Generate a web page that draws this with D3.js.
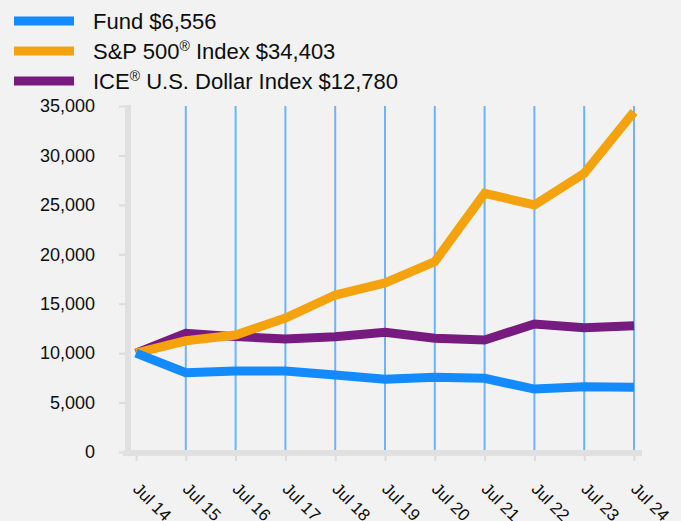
<!DOCTYPE html>
<html>
<head>
<meta charset="utf-8">
<script src="https://cdn.jsdelivr.net/npm/d3@7"></script>
<style>
  html, body { margin: 0; padding: 0; background: #f2f2f2; }
  svg { display: block; font-family: "Liberation Sans", Arial, sans-serif; }
</style>
</head>
<body>
<svg id="chart"></svg>
<script>
const years = ['Jul 14', 'Jul 15', 'Jul 16', 'Jul 17', 'Jul 18', 'Jul 19', 'Jul 20', 'Jul 21', 'Jul 22', 'Jul 23', 'Jul 24'];
const fund = [10000, 8020, 8190, 8190, 7790, 7350, 7550, 7450, 6370, 6610, 6556];
const sp500 = [10000, 11250, 11830, 13550, 15880, 17100, 19250, 26170, 24990, 28190, 34403];
const ice = [10000, 12000, 11670, 11430, 11660, 12110, 11500, 11330, 12950, 12580, 12780];
const yTicks = [0, 5000, 10000, 15000, 20000, 25000, 30000, 35000];

const W = 681, H = 521;
const colors = { fund: '#138afd', sp: '#f4a30f', ice: '#781b81' };

const svg = d3.select('#chart').attr('width', W).attr('height', H);
svg.append('rect').attr('width', W).attr('height', H).attr('fill', '#f2f2f2');

const x = d3.scalePoint().domain(years).range([136, 634]);
const y = d3.scaleLinear().domain([0, 35000]).range([452, 106]);

// Legend
const legend = [
    { color: colors.fund, parts: [['Fund $6,556', false]] },
    { color: colors.sp, parts: [['S&P 500', false], ['®', true], [' Index $34,403', false]] },
    { color: colors.ice, parts: [['ICE', false], ['®', true], [' U.S. Dollar Index $12,780', false]] }
];
legend.forEach((l, i) => {
    const cy = 21 + i * 30;
    svg.append('line').attr('x1', 14).attr('x2', 74).attr('y1', cy).attr('y2', cy)
        .attr('stroke', l.color).attr('stroke-width', 9);
    const t = svg.append('text').attr('x', 93).attr('y', cy + 7.5)
        .attr('font-size', '22px').attr('fill', '#0d0d0d');
    l.parts.forEach(([s, sup]) => {
        const ts = t.append('tspan').text(s);
        if (sup) ts.attr('font-size', '14px').attr('dy', -8);
        else if (t.selectAll('tspan').size() > 1) ts.attr('dy', 8);
    });
});

// Vertical grid
svg.append('g').selectAll('line')
    .data(years.slice(1))
    .enter().append('line')
    .attr('x1', d => x(d)).attr('x2', d => x(d))
    .attr('y1', y(35000)).attr('y2', 450)
    .attr('stroke', '#6cb3fb').attr('stroke-width', 2);

// Y axis
const yAxis = svg.append('g').attr('transform', 'translate(125,0)')
    .call(d3.axisLeft(y).tickValues(yTicks).tickSize(6).tickPadding(24).tickFormat(d3.format(',')));
yAxis.select('.domain').remove();
yAxis.selectAll('.tick line').attr('stroke', '#dcdcdc').attr('stroke-width', 2);
yAxis.selectAll('.tick text').attr('font-size', '18px').attr('fill', '#0d0d0d')
    .attr('font-family', '"Liberation Sans", Arial, sans-serif');
svg.append('line').attr('x1', 128).attr('x2', 128).attr('y1', 105).attr('y2', 456)
    .attr('stroke', '#e0e0e0').attr('stroke-width', 6);

// X axis
const xAxis = svg.append('g').attr('transform', 'translate(0,455)')
    .call(d3.axisBottom(x).tickSize(6).tickFormat(''));
xAxis.select('.domain').remove();
xAxis.selectAll('.tick line').attr('stroke', '#dcdcdc').attr('stroke-width', 2);
svg.append('line').attr('x1', 123).attr('x2', 642).attr('y1', 453).attr('y2', 453)
    .attr('stroke', '#e0e0e0').attr('stroke-width', 6);
svg.append('g').selectAll('text')
    .data(years)
    .enter().append('text')
    .attr('transform', d => `translate(${x(d) - 4},${490}) rotate(45)`)
    .attr('font-size', '17px').attr('fill', '#0d0d0d')
    .text(d => d);

// Lines
const line = d3.line().x((d, i) => x(years[i])).y(d => y(d));
[[ice, colors.ice], [sp500, colors.sp], [fund, colors.fund]].forEach(([vals, c]) => {
    svg.append('path').datum(vals).attr('d', line)
        .attr('fill', 'none').attr('stroke', c).attr('stroke-width', 9)
        .attr('stroke-linejoin', 'miter');
});
</script>
</body>
</html>
